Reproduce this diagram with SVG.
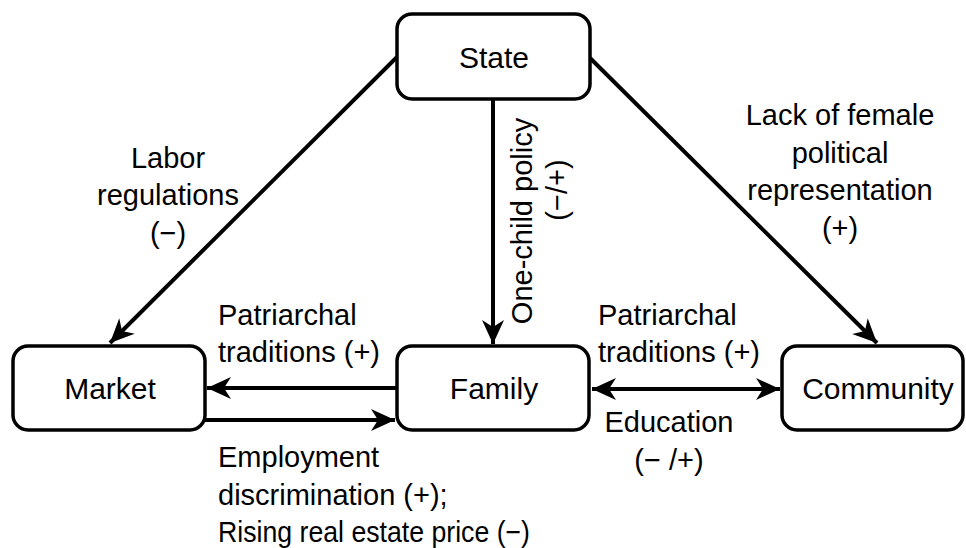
<svg xmlns="http://www.w3.org/2000/svg" width="966" height="548" viewBox="0 0 966 548">
  <style>
    .box { fill: #ffffff; stroke: #000000; stroke-width: 3.5; }
    .edge { fill: none; stroke: #000000; stroke-width: 4; }
    .node-label { font-family: "Liberation Sans", Arial, sans-serif; font-size: 30px; fill: #000000; text-anchor: middle; }
    .label { font-family: "Liberation Sans", Arial, sans-serif; font-size: 29px; fill: #000000; }
    .mid { text-anchor: middle; }
  </style>
  <defs>
    <marker id="arrow" viewBox="-26 -12 28 24" refX="0" refY="0" markerWidth="28" markerHeight="24" markerUnits="userSpaceOnUse" orient="auto-start-reverse">
      <path d="M0,0 L-24,-11 L-17,0 L-24,11 Z" fill="#000000"/>
    </marker>
  </defs>

  <g id="connectors">
    <line class="edge" x1="397" y1="57" x2="110" y2="343" marker-end="url(#arrow)"/>
    <line class="edge" x1="590" y1="58" x2="877" y2="343" marker-end="url(#arrow)"/>
    <line class="edge" x1="493" y1="99" x2="493" y2="344" marker-end="url(#arrow)"/>
    <line class="edge" x1="397" y1="388" x2="207" y2="388" marker-end="url(#arrow)"/>
    <line class="edge" x1="205" y1="420" x2="395" y2="420" marker-end="url(#arrow)"/>
    <line class="edge" x1="592" y1="389" x2="780" y2="389" marker-start="url(#arrow)" marker-end="url(#arrow)"/>
  </g>

  <g id="state">
    <rect class="box" x="397" y="14" width="193" height="85" rx="15"/>
    <text class="node-label" x="494" y="68">State</text>
  </g>
  <g id="market">
    <rect class="box" x="13" y="346" width="192" height="84" rx="15"/>
    <text class="node-label" x="110" y="399">Market</text>
  </g>
  <g id="family">
    <rect class="box" x="397" y="346" width="192" height="84" rx="15"/>
    <text class="node-label" x="494" y="399">Family</text>
  </g>
  <g id="community">
    <rect class="box" x="782" y="346" width="181" height="84" rx="15"/>
    <text class="node-label" x="878" y="399">Community</text>
  </g>

  <g id="edge-labels">
    <text class="label mid" x="168" y="168">Labor</text>
    <text class="label mid" x="168" y="205">regulations</text>
    <text class="label mid" x="168" y="243">(−)</text>

    <text class="label mid" x="840" y="125">Lack of female</text>
    <text class="label mid" x="840" y="163">political</text>
    <text class="label mid" x="840" y="200">representation</text>
    <text class="label mid" x="840" y="238">(+)</text>

    <g transform="translate(532,221) rotate(-90)">
      <text class="label mid" x="0" y="0">One-child policy</text>
    </g>
    <g transform="translate(567,190) rotate(-90)">
      <text class="label mid" x="0" y="0">(−/+)</text>
    </g>

    <text class="label" x="218" y="325">Patriarchal</text>
    <text class="label" x="218" y="362">traditions (+)</text>

    <text class="label" x="598" y="325">Patriarchal</text>
    <text class="label" x="598" y="362">traditions (+)</text>

    <text class="label mid" x="669" y="432">Education</text>
    <text class="label mid" x="669" y="470">(− /+)</text>

    <text class="label" x="218" y="467">Employment</text>
    <text class="label" x="218" y="505">discrimination (+);</text>
    <text class="label" x="218" y="542" textLength="312" lengthAdjust="spacingAndGlyphs">Rising real estate price (−)</text>
  </g>
</svg>
